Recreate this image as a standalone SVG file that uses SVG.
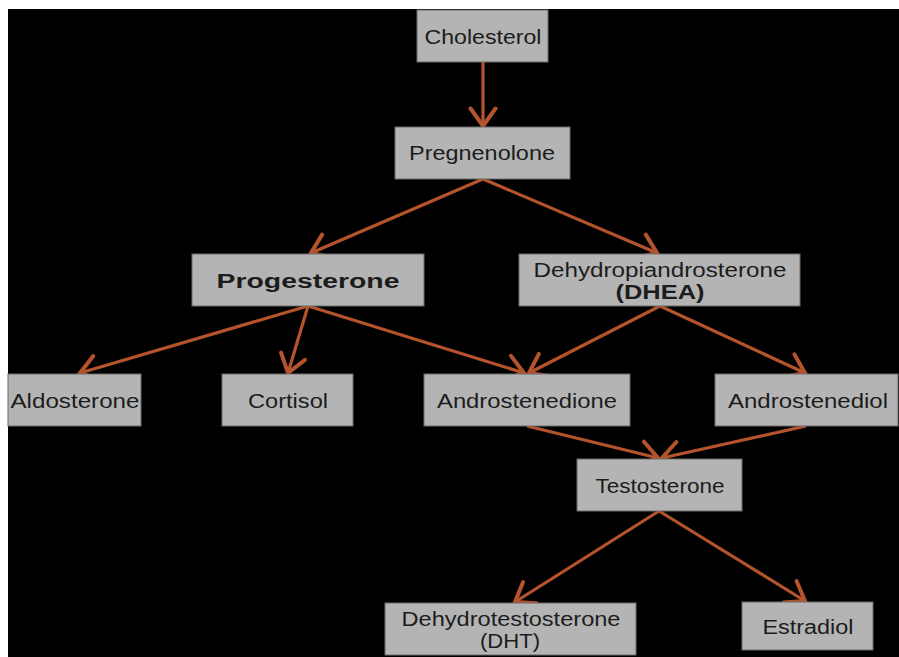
<svg xmlns="http://www.w3.org/2000/svg" width="899" height="657" viewBox="0 0 899 657">
<defs>
<marker id="ah" markerUnits="userSpaceOnUse" markerWidth="30" markerHeight="30" viewBox="-16 -12 20 24" refX="0" refY="0" orient="auto">
<path d="M-14,-10 L0,0 L-14,10" fill="none" stroke="#b4532c" stroke-width="3.2" stroke-linejoin="miter" stroke-linecap="round"/>
</marker>
</defs>
<style>
.box{fill:#b4b4b4;stroke:#6a6a6a;stroke-width:1}
.t{font-family:"Liberation Sans","DejaVu Sans",sans-serif;font-size:20px;fill:#1c1c1c;text-anchor:middle}
.b{font-weight:bold}
.c{fill:none;stroke:#b4532c;stroke-width:3.2;marker-end:url(#ah)}
</style>
<rect x="0" y="0" width="899" height="657" fill="#ffffff"/>
<rect x="8" y="9" width="891" height="648" fill="#000000"/>
<g id="connectors">
<line class="c" x1="483" y1="62" x2="483" y2="126"/>
<line class="c" x1="483" y1="179" x2="311" y2="253"/>
<line class="c" x1="483" y1="179" x2="657" y2="253"/>
<line class="c" x1="308" y1="306" x2="80" y2="373"/>
<line class="c" x1="308" y1="306" x2="288" y2="373"/>
<line class="c" x1="308" y1="306" x2="524" y2="373"/>
<line class="c" x1="660" y1="306" x2="529" y2="373"/>
<line class="c" x1="660" y1="306" x2="805" y2="373"/>
<line class="c" x1="527" y1="426" x2="658" y2="458"/>
<line class="c" x1="806" y1="426" x2="662" y2="458"/>
<line class="c" x1="659" y1="511" x2="515" y2="602"/>
<line class="c" x1="659" y1="511" x2="805" y2="601"/>
</g>
<g id="cholesterol"><rect class="box" x="417" y="10" width="131" height="52"/><text class="t" x="483" y="44" textLength="117" lengthAdjust="spacingAndGlyphs">Cholesterol</text></g>
<g id="pregnenolone"><rect class="box" x="395" y="127" width="175" height="52"/><text class="t" x="482" y="160" textLength="146" lengthAdjust="spacingAndGlyphs">Pregnenolone</text></g>
<g id="progesterone"><rect class="box" x="192" y="254" width="232" height="52"/><text class="t b" x="308" y="288" textLength="183" lengthAdjust="spacingAndGlyphs">Progesterone</text></g>
<g id="dhea"><rect class="box" x="519" y="254" width="281" height="52"/><text class="t" x="660" y="277" textLength="253" lengthAdjust="spacingAndGlyphs">Dehydropiandrosterone</text><text class="t b" x="660" y="299" textLength="89" lengthAdjust="spacingAndGlyphs">(DHEA)</text></g>
<g id="aldosterone"><rect class="box" x="8" y="374" width="133" height="52"/><text class="t" x="75" y="408" textLength="129" lengthAdjust="spacingAndGlyphs">Aldosterone</text></g>
<g id="cortisol"><rect class="box" x="222" y="374" width="131" height="52"/><text class="t" x="288" y="408" textLength="80" lengthAdjust="spacingAndGlyphs">Cortisol</text></g>
<g id="androstenedione"><rect class="box" x="424" y="374" width="206" height="52"/><text class="t" x="527" y="408" textLength="180" lengthAdjust="spacingAndGlyphs">Androstenedione</text></g>
<g id="androstenediol"><rect class="box" x="715" y="374" width="183" height="52"/><text class="t" x="808" y="408" textLength="160" lengthAdjust="spacingAndGlyphs">Androstenediol</text></g>
<g id="testosterone"><rect class="box" x="577" y="459" width="165" height="52"/><text class="t" x="660" y="493" textLength="129" lengthAdjust="spacingAndGlyphs">Testosterone</text></g>
<g id="dht"><rect class="box" x="385" y="603" width="251" height="52"/><text class="t" x="511" y="626" textLength="219" lengthAdjust="spacingAndGlyphs">Dehydrotestosterone</text><text class="t" x="510" y="648" textLength="60" lengthAdjust="spacingAndGlyphs">(DHT)</text></g>
<g id="estradiol"><rect class="box" x="742" y="602" width="131" height="48"/><text class="t" x="808" y="634" textLength="91" lengthAdjust="spacingAndGlyphs">Estradiol</text></g>
</svg>
